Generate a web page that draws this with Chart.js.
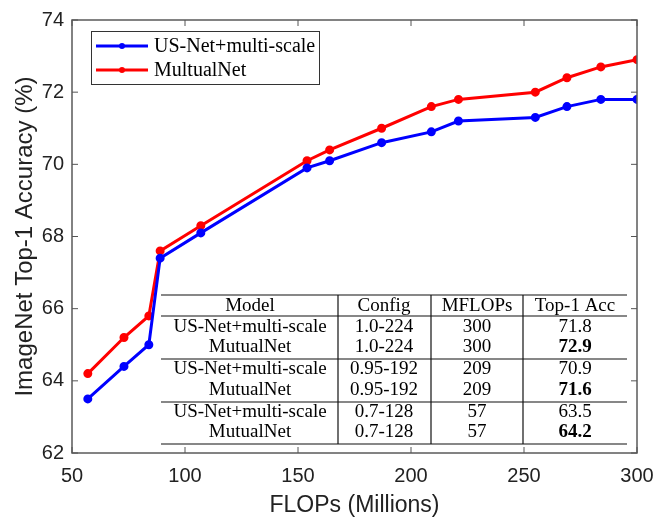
<!DOCTYPE html>
<html><head><meta charset="utf-8">
<script src="https://cdn.jsdelivr.net/npm/chart.js@4"></script>
<style>html,body{margin:0;padding:0;background:#fff}#wrap{width:671px;height:519px}</style>
</head><body><div id="wrap"><canvas id="c" width="671" height="519"></canvas></div>
<script>
const flops = [57, 73, 84, 89, 107, 154, 164, 187, 209, 221, 255, 269, 284, 300];
const usNet = [63.5, 64.4, 65.0, 67.4, 68.1, 69.9, 70.1, 70.6, 70.9, 71.2, 71.3, 71.6, 71.8, 71.8];
const mutualNet = [64.2, 65.2, 65.8, 67.6, 68.3, 70.1, 70.4, 71.0, 71.6, 71.8, 72.0, 72.4, 72.7, 72.9];
const seriesNames = ['US-Net+multi-scale', 'MultualNet'];
const xTicks = [50, 100, 150, 200, 250, 300];
const yTicks = [62, 64, 66, 68, 70, 72, 74];
const tableHeader = ['Model', 'Config', 'MFLOPs', 'Top-1 Acc'];
const tableRows = [
  ['US-Net+multi-scale', '1.0-224', '300', '71.8'],
  ['MutualNet', '1.0-224', '300', '72.9'],
  ['US-Net+multi-scale', '0.95-192', '209', '70.9'],
  ['MutualNet', '0.95-192', '209', '71.6'],
  ['US-Net+multi-scale', '0.7-128', '57', '63.5'],
  ['MutualNet', '0.7-128', '57', '64.2']
];
const boldRows = [1, 3, 5];

const pts = arr => arr.map((v, i) => ({x: flops[i], y: v}));
const SERIF = '"Liberation Serif", "Times New Roman", serif';
const SANS = '"Liberation Sans", Arial, sans-serif';

const framePlugin = {
  id: 'frame',
  afterDatasetsDraw(chart) {
    const ctx = chart.ctx, a = chart.chartArea;
    const xs = chart.scales.x, ys = chart.scales.y;
    ctx.save();
    ctx.strokeStyle = '#5a5a5a';
    ctx.lineWidth = 1.5;
    ctx.strokeRect(a.left, a.top, a.right - a.left, a.bottom - a.top);
    ctx.beginPath();
    const tl = 6;
    xTicks.forEach(t => {
      const px = xs.getPixelForValue(t);
      ctx.moveTo(px, a.bottom); ctx.lineTo(px, a.bottom - tl);
      ctx.moveTo(px, a.top); ctx.lineTo(px, a.top + tl);
    });
    yTicks.forEach(t => {
      const py = ys.getPixelForValue(t);
      ctx.moveTo(a.left, py); ctx.lineTo(a.left + tl, py);
      ctx.moveTo(a.right, py); ctx.lineTo(a.right - tl, py);
    });
    ctx.strokeStyle = '#555';
    ctx.lineWidth = 1;
    ctx.stroke();

    // legend
    const lx = 91, ly = 31, lw = 228, lh = 53;
    ctx.fillStyle = '#fff';
    ctx.fillRect(lx, ly, lw, lh);
    ctx.strokeStyle = '#333';
    ctx.lineWidth = 1;
    ctx.strokeRect(lx + 0.5, ly + 0.5, lw, lh);
    const colors = ['#0000ff', '#ff0000'];
    const rowsY = [46, 70];
    ctx.font = '20px ' + SERIF;
    ctx.textBaseline = 'middle';
    ctx.textAlign = 'left';
    seriesNames.forEach((n, i) => {
      const y = rowsY[i];
      ctx.strokeStyle = colors[i];
      ctx.lineWidth = 3;
      ctx.beginPath(); ctx.moveTo(96, y); ctx.lineTo(148, y); ctx.stroke();
      ctx.fillStyle = colors[i];
      ctx.beginPath(); ctx.arc(122, y, 3, 0, Math.PI * 2); ctx.fill();
      ctx.fillStyle = '#000';
      ctx.fillText(n, 154, y + 1);
    });

    // table
    const tLeft = 161, tRight = 627, tTop = 295, tBottom = 444;
    ctx.fillStyle = '#fff';
    ctx.fillRect(tLeft, tTop, tRight - tLeft, tBottom - tTop);
    const centers = [250, 384, 477, 575];
    ctx.strokeStyle = '#111';
    ctx.lineWidth = 1.2;
    [295, 316, 359, 402, 444].forEach(y => {
      ctx.beginPath(); ctx.moveTo(tLeft, y); ctx.lineTo(tRight, y); ctx.stroke();
    });
    [338, 431, 523].forEach(x => {
      ctx.beginPath(); ctx.moveTo(x, tTop); ctx.lineTo(x, tBottom); ctx.stroke();
    });
    ctx.textAlign = 'center';
    ctx.fillStyle = '#000';
    ctx.font = '19px ' + SERIF;
    tableHeader.forEach((h, j) => ctx.fillText(h, centers[j], 306));
    const rowY = [327, 347, 369, 390, 412, 432];
    tableRows.forEach((r, i) => {
      r.forEach((c, j) => {
        const bold = j === 3 && boldRows.includes(i);
        ctx.font = (bold ? 'bold ' : '') + '19px ' + SERIF;
        ctx.fillText(c, centers[j], rowY[i]);
      });
    });
    ctx.restore();
  }
};

new Chart(document.getElementById('c'), {
  type: 'line',
  data: {
    datasets: [
      {label: seriesNames[0], data: pts(usNet), borderColor: '#0000ff', backgroundColor: '#0000ff', borderWidth: 3, pointRadius: 3, pointHoverRadius: 3, tension: 0},
      {label: seriesNames[1], data: pts(mutualNet), borderColor: '#ff0000', backgroundColor: '#ff0000', borderWidth: 3, pointRadius: 3, pointHoverRadius: 3, tension: 0}
    ]
  },
  options: {
    responsive: false,
    animation: false,
    devicePixelRatio: 1,
    layout: {padding: {top: 14, right: 34, left: 0, bottom: 0}},
    plugins: {legend: {display: false}, tooltip: {enabled: false}},
    scales: {
      x: {
        type: 'linear', min: 50, max: 300,
        afterBuildTicks: s => { s.ticks = xTicks.map(v => ({value: v})); },
        afterFit: s => { s.height = 66; },
        grid: {display: false, drawTicks: false},
        border: {display: false},
        ticks: {color: '#222', font: {family: SANS, size: 20}, padding: 11, maxRotation: 0},
        title: {display: true, text: 'FLOPs (Millions)', color: '#222', font: {family: SANS, size: 23}, padding: {top: 0, bottom: 0}}
      },
      y: {
        type: 'linear', min: 62, max: 74,
        afterBuildTicks: s => { s.ticks = yTicks.map(v => ({value: v})); },
        afterFit: s => { s.width = 72; },
        grid: {display: false, drawTicks: false},
        border: {display: false},
        ticks: {color: '#222', font: {family: SANS, size: 20}, padding: 8},
        title: {display: true, text: 'ImageNet Top-1 Accuracy (%)', color: '#222', font: {family: SANS, size: 24}, padding: {top: 10.5, bottom: 0}}
      }
    }
  },
  plugins: [framePlugin]
});
</script></body></html>
